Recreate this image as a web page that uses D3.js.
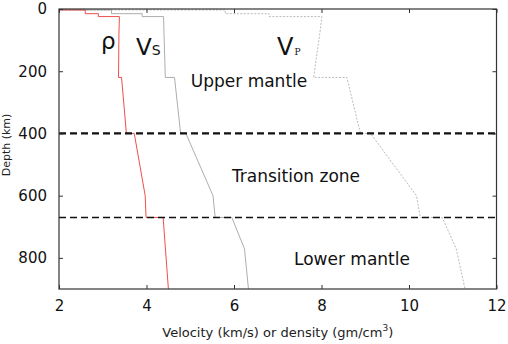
<!DOCTYPE html>
<html>
<head>
<meta charset="utf-8">
<script src="https://cdn.jsdelivr.net/npm/d3@7"></script>
<style>
  body { margin: 0; background: #fff; }
  svg { display: block; font-family: "DejaVu Sans", sans-serif; }
</style>
</head>
<body>
<svg id="chart" width="508" height="344"></svg>
<script>
// PREM-achtige profielen (diepte in km)
const rhoDepth = [0, 3, 3, 15, 15, 24.4, 24.4, 80, 220, 220, 400, 400, 600, 670, 670, 900];
const rhoVal   = [1.02, 1.02, 2.6, 2.6, 2.9, 2.9, 3.38, 3.37, 3.36, 3.43, 3.54, 3.72, 3.97, 3.99, 4.38, 4.5];

const vsDepth = [0, 3, 3, 15, 15, 24.4, 24.4, 80, 220, 220, 400, 400, 600, 670, 670, 771, 900];
const vsVal   = [0, 0, 3.2, 3.2, 3.9, 3.9, 4.39, 4.40, 4.43, 4.64, 4.78, 4.90, 5.52, 5.57, 5.95, 6.24, 6.33];

const vpDepth = [0, 3, 3, 15, 15, 24.4, 24.4, 80, 220, 220, 400, 400, 600, 670, 670, 771, 900];
const vpVal   = [1.45, 1.45, 5.8, 5.8, 6.8, 6.8, 8.01, 7.96, 7.82, 8.58, 8.89, 9.12, 10.17, 10.26, 10.76, 11.08, 11.28];

const grensDieptes = [400, 670];
const zones = ['Upper mantle', 'Transition zone', 'Lower mantle'];
const xTicks = [2, 4, 6, 8, 10, 12];
const yTicks = [0, 200, 400, 600, 800];

const svg = d3.select('#chart');
const links = 59, rechts = 496.5, boven = 9, onder = 289;

const x = d3.scaleLinear().domain([2, 12]).range([links, rechts]);
const y = d3.scaleLinear().domain([0, 900]).range([boven, onder]);

svg.append('clipPath').attr('id', 'clip')
  .append('rect').attr('x', links).attr('y', boven)
  .attr('width', rechts - links).attr('height', onder - boven);

const plot = svg.append('g').attr('clip-path', 'url(#clip)');

const lijn = d3.line().x(d => x(d[1])).y(d => y(d[0]));

function profiel(dieptes, waarden) {
  return dieptes.map((d, i) => [d, waarden[i]]);
}

plot.append('path').datum(profiel(vpDepth, vpVal))
  .attr('d', lijn).attr('fill', 'none')
  .attr('stroke', '#a8a8a8').attr('stroke-width', 0.8)
  .attr('stroke-dasharray', '2,1.5');

plot.append('path').datum(profiel(vsDepth, vsVal))
  .attr('d', lijn).attr('fill', 'none')
  .attr('stroke', '#a4a4a4').attr('stroke-width', 0.9);

plot.append('path').datum(profiel(rhoDepth, rhoVal))
  .attr('d', lijn).attr('fill', 'none')
  .attr('stroke', '#ec3b38').attr('stroke-width', 0.9);

// grenzen tussen de zones
grensDieptes.forEach((d, i) => {
  svg.append('line')
    .attr('x1', links).attr('x2', rechts)
    .attr('y1', y(d)).attr('y2', y(d))
    .attr('stroke', '#111')
    .attr('stroke-width', i === 0 ? 2.2 : 1.4)
    .attr('stroke-dasharray', '7,4');
});

// assen met ticks naar binnen, op alle vier de zijden
const asKleur = '#333';
const gBot = svg.append('g').attr('transform', `translate(0,${onder})`)
  .call(d3.axisBottom(x).tickValues(xTicks).tickSizeInner(-4).tickSizeOuter(0).tickPadding(11));
const gTop = svg.append('g').attr('transform', `translate(0,${boven})`)
  .call(d3.axisTop(x).tickValues(xTicks).tickSizeInner(-4).tickSizeOuter(0).tickFormat(''));
const gLeft = svg.append('g').attr('transform', `translate(${links},0)`)
  .call(d3.axisLeft(y).tickValues(yTicks).tickSizeInner(-4).tickSizeOuter(0).tickPadding(12));
const gRight = svg.append('g').attr('transform', `translate(${rechts},0)`)
  .call(d3.axisRight(y).tickValues(yTicks).tickSizeInner(-4).tickSizeOuter(0).tickFormat(''));

[gBot, gTop, gLeft, gRight].forEach(g => {
  g.selectAll('path').remove();
  g.selectAll('line').attr('stroke', asKleur);
  g.selectAll('text').attr('font-family', 'DejaVu Sans, sans-serif')
    .attr('font-size', 15).attr('fill', '#111');
});

svg.append('rect')
  .attr('x', links).attr('y', boven)
  .attr('width', rechts - links).attr('height', onder - boven)
  .attr('fill', 'none').attr('stroke', asKleur).attr('stroke-width', 1.2);

// astitels
const xTitel = svg.append('text')
  .attr('x', (links + rechts) / 2 + 0).attr('y', 337)
  .attr('text-anchor', 'middle').attr('font-size', 13).attr('fill', '#222')
  .text('Velocity (km/s) or density (gm/cm');
xTitel.append('tspan').attr('font-size', 9).attr('dy', -6).text('3');
xTitel.append('tspan').attr('dy', 6).text(')');

svg.append('text')
  .attr('transform', `translate(10,${145}) rotate(-90)`)
  .attr('text-anchor', 'middle').attr('font-size', 11).attr('fill', '#222')
  .text('Depth (km)');

// labels van de curves
svg.append('text').attr('x', 101).attr('y', 49)
  .attr('font-size', 23).attr('fill', '#111').text('ρ');

const vs = svg.append('text').attr('x', 136).attr('y', 55)
  .attr('font-size', 23).attr('fill', '#111').text('V');
vs.append('tspan').attr('font-size', 14).text('S');

const vp = svg.append('text').attr('x', 277).attr('y', 55)
  .attr('font-size', 24).attr('fill', '#111').text('V');
vp.append('tspan').attr('font-size', 9).attr('dx', 1)
  .attr('font-family', 'DejaVu Serif, serif').text('P');

// zone-namen
const zonePos = [[249, 87], [296, 181.5], [352, 265]];
zones.forEach((z, i) => {
  svg.append('text')
    .attr('x', zonePos[i][0]).attr('y', zonePos[i][1])
    .attr('text-anchor', 'middle').attr('font-size', 17).attr('fill', '#111')
    .text(z);
});
</script>
</body>
</html>
